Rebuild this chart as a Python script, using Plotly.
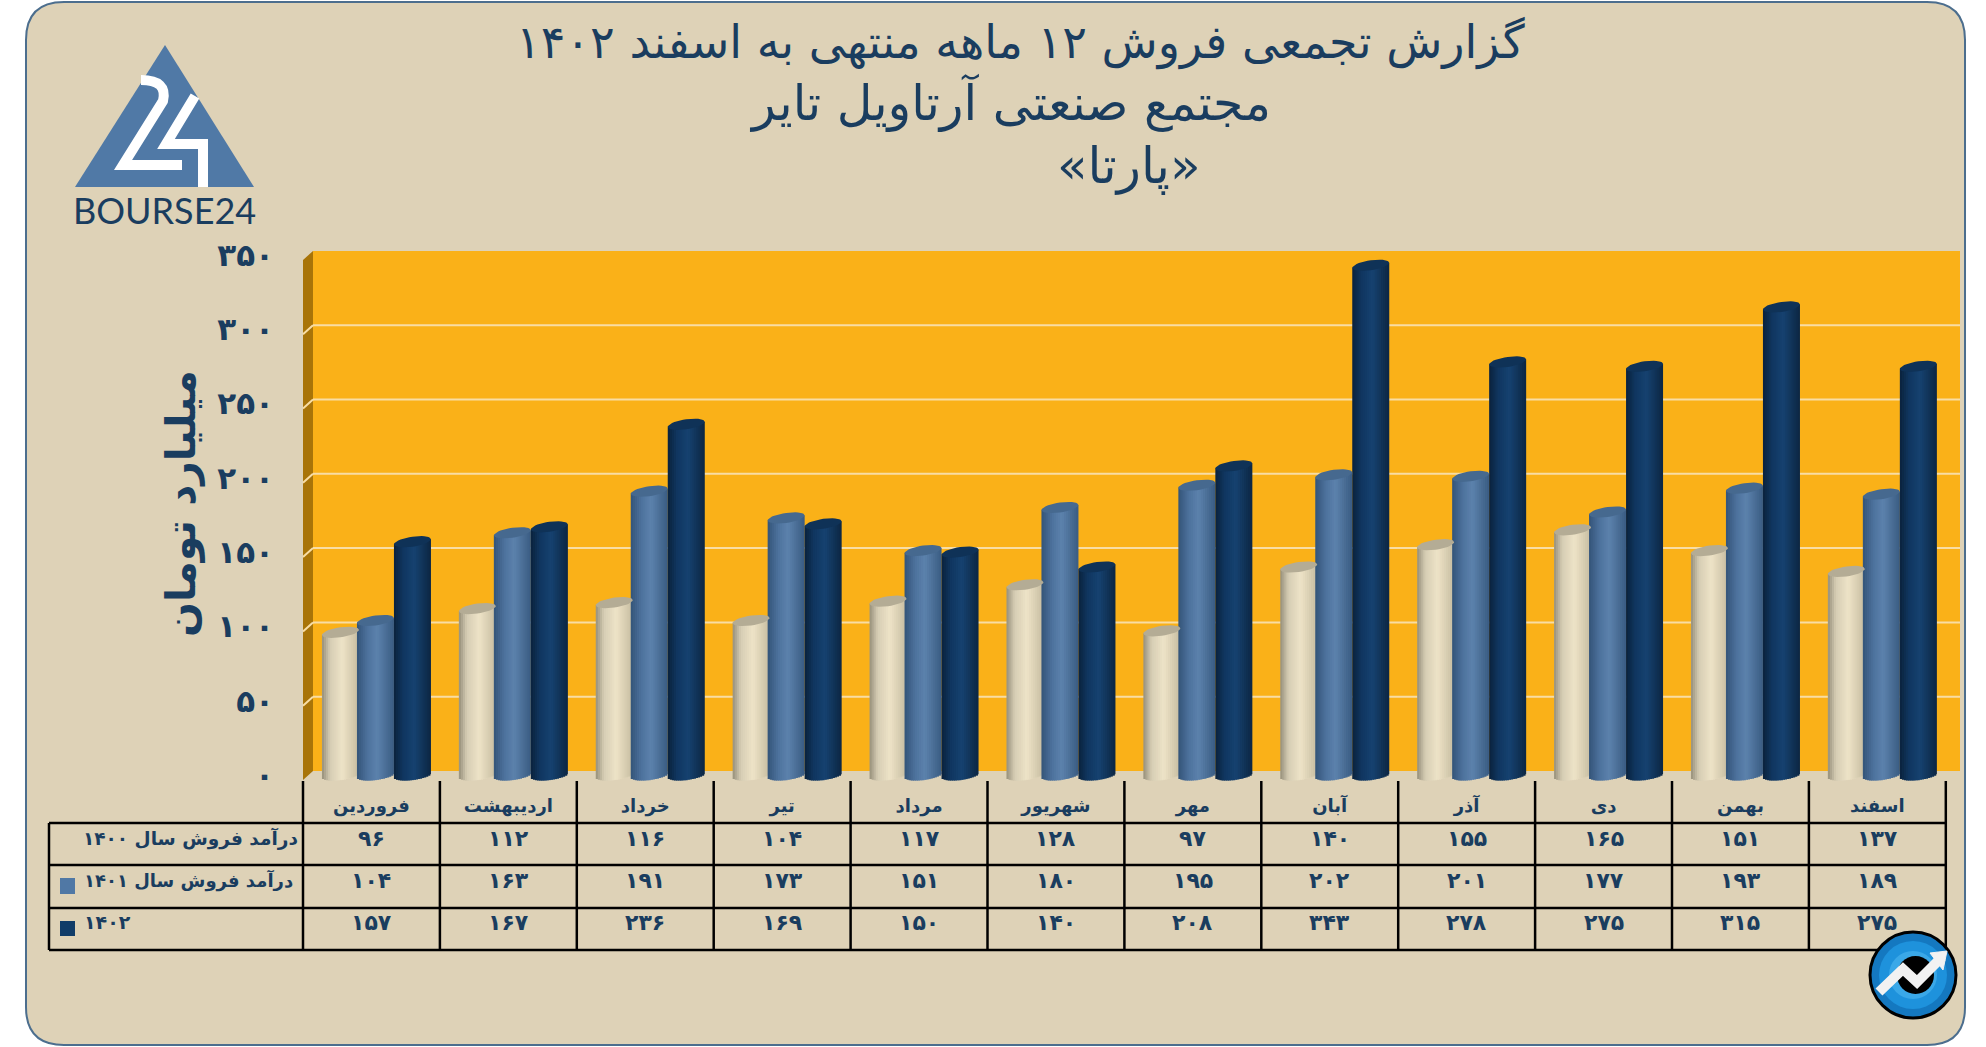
import math
import plotly.graph_objs as go

W = 1986
H = 1047

months = ['فروردین', 'اردیبهشت', 'خرداد', 'تیر', 'مرداد', 'شهریور',
          'مهر', 'آبان', 'آذر', 'دی', 'بهمن', 'اسفند']
sales_1400 = [96, 112, 116, 104, 117, 128, 97, 140, 155, 165, 151, 137]
sales_1401 = [104, 163, 191, 173, 151, 180, 195, 202, 201, 177, 193, 189]
sales_1402 = [157, 167, 236, 169, 150, 140, 208, 343, 278, 275, 315, 275]
y_ticks = [0, 50, 100, 150, 200, 250, 300, 350]
row_labels = ['درآمد فروش سال ۱۴۰۰', 'درآمد فروش سال ۱۴۰۱', '۱۴۰۲']
title_lines = ['گزارش تجمعی فروش ۱۲ ماهه منتهی به اسفند ۱۴۰۲',
               'مجتمع صنعتی آرتاویل تایر',
               '«پارتا»']
y_title = 'میلیارد تومان'

BG = '#DED2B7'
ORANGE = '#FAB118'
SIDE = '#A87408'
GRID = '#F8DDA4'
NAVY = '#1A3D5F'
FONT = 'DejaVu Sans'

# chart geometry in page pixels
COL_LEFT = 303
COL_W = 136.9
WALL_LEFT = 313
WALL_RIGHT = 1960
WALL_TOP = 251
WALL_BOTTOM = 771
ZERO_Y = 775
PLOT_BOTTOM = 785
PX_PER_UNIT = 1.486
WALL_SHIFT = (ZERO_Y - WALL_BOTTOM) / PX_PER_UNIT

BAR_W = 37 / COL_W
CAP_B = 5 / PX_PER_UNIT
CAP_TILT = 2.5 / PX_PER_UNIT
N_STRIPS = 18


def px(x):
    return x / W


def py(y):
    return 1 - y / H


def poly(points, close=True):
    path = 'M ' + ' L '.join('%.5f,%.5f' % (px(x), py(y)) for x, y in points)
    return path + (' Z' if close else '')


def fa(num):
    return str(num).translate(str.maketrans('0123456789', '۰۱۲۳۴۵۶۷۸۹'))


def mix(stops, t):
    # stops is a list of (position, (r, g, b))
    for (t0, c0), (t1, c1) in zip(stops, stops[1:]):
        if t <= t1:
            k = (t - t0) / (t1 - t0)
            rgb = [round(a + (b - a) * k) for a, b in zip(c0, c1)]
            return 'rgb(%d,%d,%d)' % tuple(rgb)
    return 'rgb(%d,%d,%d)' % stops[-1][1]


series = [
    dict(values=sales_1400, shift=-31, cap='#B4AC95',
         stops=[(0, (150, 143, 122)), (0.22, (214, 205, 180)),
                (0.55, (238, 227, 199)), (1, (198, 188, 160))]),
    dict(values=sales_1401, shift=4, cap='#46698F',
         stops=[(0, (52, 84, 120)), (0.3, (78, 115, 158)),
                (0.55, (92, 130, 172)), (1, (58, 92, 130))]),
    dict(values=sales_1402, shift=41, cap='#0F3257',
         stops=[(0, (10, 34, 60)), (0.25, (16, 54, 96)),
                (0.55, (22, 66, 112)), (1, (12, 38, 66))]),
]

fig_data = []
xs = list(range(len(months)))

# each cylinder is a stack of thin bars, shaded left to right
for s in series:
    for k in range(N_STRIPS):
        u = (k + 0.5) / N_STRIPS * 2 - 1
        width = BAR_W / N_STRIPS
        left = s['shift'] / COL_W - BAR_W / 2 + k * width
        low = CAP_TILT * u - CAP_B * math.sqrt(1 - u * u)
        fig_data.append(go.Bar(
            x=xs,
            y=[v + CAP_TILT * u - low for v in s['values']],
            base=[low] * len(xs),
            offset=left,
            width=width * (1.7 if k < N_STRIPS - 1 else 1),
            marker=dict(color=mix(s['stops'], (u + 1) / 2), line=dict(width=0)),
            hoverinfo='skip',
            showlegend=False,
        ))

# top of each cylinder
for s in series:
    cap_x = []
    cap_y = []
    for i, v in zip(xs, s['values']):
        for n in range(37):
            a = 2 * math.pi * n / 36
            cap_x.append(i + s['shift'] / COL_W + BAR_W / 2 * math.cos(a))
            cap_y.append(v + CAP_B * math.sin(a) + CAP_TILT * math.cos(a))
        cap_x.append(None)
        cap_y.append(None)
    fig_data.append(go.Scatter(
        x=cap_x, y=cap_y, mode='lines', fill='toself', fillcolor=s['cap'],
        line=dict(width=0), hoverinfo='skip', showlegend=False,
    ))

fig = go.Figure(data=fig_data)

shapes = []

# card behind everything
R = 38
L, T, RR, B = 26, 2, 1965, 1045
card = ('M %.5f,%.5f' % (px(L + R), py(T))
        + ' L %.5f,%.5f' % (px(RR - R), py(T))
        + ' Q %.5f,%.5f %.5f,%.5f' % (px(RR), py(T), px(RR), py(T + R))
        + ' L %.5f,%.5f' % (px(RR), py(B - R))
        + ' Q %.5f,%.5f %.5f,%.5f' % (px(RR), py(B), px(RR - R), py(B))
        + ' L %.5f,%.5f' % (px(L + R), py(B))
        + ' Q %.5f,%.5f %.5f,%.5f' % (px(L), py(B), px(L), py(B - R))
        + ' L %.5f,%.5f' % (px(L), py(T + R))
        + ' Q %.5f,%.5f %.5f,%.5f Z' % (px(L), py(T), px(L + R), py(T)))
shapes.append(dict(type='path', path=card, xref='paper', yref='paper', layer='below',
                   fillcolor=BG, line=dict(color='#4C6E8E', width=2)))

# back wall and left wall
shapes.append(dict(type='rect', xref='paper', yref='paper', layer='below',
                   x0=px(WALL_LEFT), x1=px(WALL_RIGHT), y0=py(WALL_BOTTOM), y1=py(WALL_TOP),
                   fillcolor=ORANGE, line=dict(width=0)))
shapes.append(dict(type='path', xref='paper', yref='paper', layer='below',
                   path=poly([(COL_LEFT, WALL_TOP + 9), (WALL_LEFT, WALL_TOP),
                              (WALL_LEFT, WALL_BOTTOM), (COL_LEFT, WALL_BOTTOM + 9)]),
                   fillcolor=SIDE, line=dict(width=0)))

# gridlines on both walls
for v in y_ticks[1:-1]:
    gy = WALL_BOTTOM - v * PX_PER_UNIT
    shapes.append(dict(type='line', xref='paper', yref='y', layer='below',
                       x0=px(WALL_LEFT), x1=px(WALL_RIGHT), y0=v + WALL_SHIFT, y1=v + WALL_SHIFT,
                       line=dict(color=GRID, width=2)))
    shapes.append(dict(type='path', xref='paper', yref='paper', layer='below',
                       path=poly([(COL_LEFT, gy + 9), (WALL_LEFT, gy)], close=False),
                       line=dict(color=GRID, width=2)))

# data table grid
rows_y = [823, 865, 908, 950]
table_right = COL_LEFT + COL_W * len(months)
for ry in rows_y:
    shapes.append(dict(type='line', xref='paper', yref='paper',
                       x0=px(49), x1=px(table_right + 1), y0=py(ry), y1=py(ry),
                       line=dict(color='black', width=2.5)))
for n in range(len(months) + 1):
    vx = px(COL_LEFT + COL_W * n)
    shapes.append(dict(type='line', xref='paper', yref='paper',
                       x0=vx, x1=vx, y0=py(781), y1=py(950),
                       line=dict(color='black', width=2.5)))
shapes.append(dict(type='line', xref='paper', yref='paper',
                   x0=px(49), x1=px(49), y0=py(823), y1=py(950),
                   line=dict(color='black', width=2.5)))

# legend keys in the table
shapes.append(dict(type='rect', xref='paper', yref='paper', x0=px(60), x1=px(75),
                   y0=py(894), y1=py(878), fillcolor='#5078A5', line=dict(width=0)))
shapes.append(dict(type='rect', xref='paper', yref='paper', x0=px(60), x1=px(75),
                   y0=py(936), y1=py(921), fillcolor='#103C68', line=dict(width=0)))

# BOURSE24 logo
shapes.append(dict(type='path', xref='paper', yref='paper',
                   path=poly([(165, 45), (254, 187), (75, 187)]),
                   fillcolor='#5079A6', line=dict(width=0)))
two = ('M %.5f,%.5f' % (px(141), py(80))
       + ' Q %.5f,%.5f %.5f,%.5f' % (px(168), py(80), px(163), py(101))
       + ' L %.5f,%.5f L %.5f,%.5f' % (px(123), py(165), px(182), py(165)))
shapes.append(dict(type='path', xref='paper', yref='paper', path=two,
                   line=dict(color='white', width=10)))
shapes.append(dict(type='path', xref='paper', yref='paper',
                   path=poly([(195, 96), (166, 144), (203, 144), (203, 187)], close=False),
                   line=dict(color='white', width=10)))

# badge bottom right
cx, cy = 1913, 975
for rad, col, line in [(43, '#1478C0', dict(color='black', width=3)),
                       (34, '#1E92DC', dict(width=0)),
                       (24, '#3AA8E8', dict(width=0))]:
    shapes.append(dict(type='circle', xref='paper', yref='paper',
                       x0=px(cx - rad), x1=px(cx + rad), y0=py(cy + rad), y1=py(cy - rad),
                       fillcolor=col, line=line))
shapes.append(dict(type='circle', xref='paper', yref='paper',
                   x0=px(1897), x1=px(1934), y0=py(994), y1=py(956),
                   fillcolor='black', line=dict(width=0)))
shapes.append(dict(type='path', xref='paper', yref='paper',
                   path=poly([(1879, 992), (1903, 969), (1917, 982), (1942, 957)], close=False),
                   line=dict(color='#F2F2F2', width=10)))
shapes.append(dict(type='path', xref='paper', yref='paper',
                   path=poly([(1930, 953), (1947, 951), (1943, 970)]),
                   fillcolor='#F2F2F2', line=dict(color='#F2F2F2', width=1)))

annotations = []


def add_text(text, x, y, size, xanchor='center', bold=False, angle=0, family=FONT, xref='paper'):
    annotations.append(dict(
        text='<b>%s</b>' % text if bold else text,
        x=x, y=py(y), xref=xref, yref='paper', xanchor=xanchor, yanchor='middle',
        showarrow=False, textangle=angle,
        font=dict(family=family, size=size, color=NAVY),
    ))


add_text(title_lines[0], px(1021), 43, 46)
add_text(title_lines[1], px(1010), 102, 49)
add_text(title_lines[2], px(1129), 166, 50)
add_text(y_title, px(181), 504, 41, bold=True, angle=-90)
add_text('BOURSE24', px(164.5), 210, 36, family='Lato')

rows = [sales_1400, sales_1401, sales_1402]
text_y = [838, 880, 922]
for row, ty in zip(rows, text_y):
    for i, v in zip(xs, row):
        add_text(fa(v), i, ty, 22, bold=True, xref='x')

add_text(row_labels[0], px(300), text_y[0], 18.5, xanchor='right', bold=True)
add_text(row_labels[1], px(295), text_y[1], 18, xanchor='right', bold=True)
add_text(row_labels[2], px(82), text_y[2], 19, xanchor='left', bold=True)

fig.update_layout(
    width=W,
    height=H,
    margin=dict(l=0, r=0, t=0, b=0, autoexpand=False),
    autosize=False,
    paper_bgcolor='white',
    plot_bgcolor='rgba(0,0,0,0)',
    barmode='overlay',
    showlegend=False,
    hovermode=False,
    shapes=shapes,
    annotations=annotations,
    xaxis=dict(
        domain=[px(WALL_LEFT), px(WALL_RIGHT)],
        range=[(WALL_LEFT - COL_LEFT) / COL_W - 0.5, (WALL_RIGHT - COL_LEFT) / COL_W - 0.5],
        tickvals=xs,
        ticktext=['<b>%s</b>' % m for m in months],
        tickfont=dict(family=FONT, size=18, color=NAVY),
        ticklabelstandoff=8,
        showgrid=False,
        zeroline=False,
        showline=False,
        ticks='',
        tickangle=0,
        fixedrange=True,
    ),
    yaxis=dict(
        domain=[py(PLOT_BOTTOM), py(WALL_TOP)],
        range=[(ZERO_Y - PLOT_BOTTOM) / PX_PER_UNIT, (ZERO_Y - WALL_TOP) / PX_PER_UNIT],
        tickvals=y_ticks,
        ticktext=['<b>%s</b>' % fa(v) for v in y_ticks],
        tickfont=dict(family=FONT, size=31, color=NAVY),
        ticklabelstandoff=38,
        showgrid=False,
        zeroline=False,
        showline=False,
        ticks='',
        fixedrange=True,
    ),
)

fig.write_html('out.html', config=dict(displayModeBar=False),
               post_script="document.body.style.margin='0';document.body.style.overflow='hidden';")
